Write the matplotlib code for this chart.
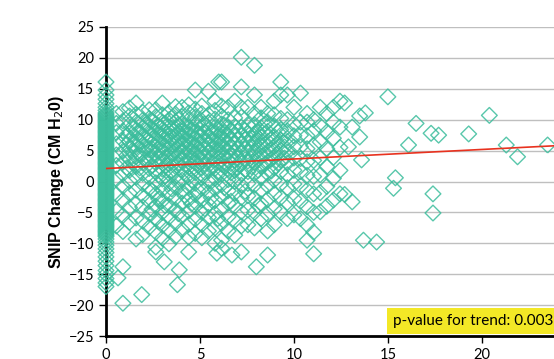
import matplotlib
matplotlib.use("Agg")
import matplotlib.pyplot as plt

# points sitting on x = 0 (the solid column at the axis)
zero_y = [-17.0, -16.4, -15.7, -15.0, -14.4, -13.6, -12.9, -12.2, -11.5, -10.9, -10.3, -9.8,
          -9.3, -8.9, -8.5, -8.1, -7.7, -7.3, -6.9, -6.5, -6.1, -5.7, -5.3, -4.9, -4.5, -4.1,
          -3.7, -3.3, -2.9, -2.5, -2.1, -1.7, -1.3, -0.9, -0.5, -0.1, 0.3, 0.7, 1.1, 1.5, 1.9,
          2.3, 2.7, 3.1, 3.5, 3.9, 4.3, 4.7, 5.1, 5.5, 5.9, 6.3, 6.7, 7.1, 7.5, 7.9, 8.3, 8.7,
          9.1, 9.5, 9.9, 10.3, 10.7, 11.1, 11.5, 12.0, 12.6, 13.3, 14.0, 14.8, 16.1]
zero_y_fill = [-8.7, -8.3, -7.9, -7.5, -7.1, -6.7, -6.3, -5.9, -5.5, -5.1, -4.7, -4.3, -3.9,
               -3.5, -3.1, -2.7, -2.3, -1.9, -1.5, -1.1, -0.7, -0.3, 0.1, 0.5, 0.9, 1.3, 1.7,
               2.1, 2.5, 2.9, 3.3, 3.7, 4.1, 4.5, 4.9, 5.3, 5.7, 6.1, 6.5, 6.9, 7.3, 7.7, 8.1,
               8.5, 8.9, 9.3, 9.7, 10.1, 10.5, 10.9]

# main cloud, one column of y values per x
cloud_x = [0.55, 0.9, 1.25, 1.6, 1.95, 2.3, 2.65, 3.0, 3.35, 3.7, 4.05, 4.4, 4.75, 5.1, 5.45,
           5.8, 6.15, 6.5, 6.85, 7.2, 7.55, 7.9, 8.25, 8.6, 8.95, 9.3, 9.65, 10.0, 10.35,
           10.7, 11.05, 11.4, 11.75, 12.1, 12.45]
cloud_y = [
    [-7.2, -4.8, -2.1, 0.4, 2.6, 4.3, 6.1, 7.9, 9.4, 11.0],
    [-8.1, -5.5, -3.0, -0.8, 1.2, 3.1, 4.9, 6.6, 8.2, 9.8, 11.3],
    [-6.6, -4.2, -1.9, 0.1, 1.8, 3.6, 5.2, 6.5, 7.8, 9.2, 10.6, 11.9],
    [-9.3, -5.9, -3.6, -1.4, 0.7, 2.4, 4.0, 5.6, 7.0, 8.3, 9.6, 10.9, 12.7],
    [-8.6, -6.4, -4.1, -2.3, -0.4, 1.3, 3.0, 4.5, 5.9, 7.2, 8.6, 9.9, 11.2],
    [-7.4, -5.2, -3.2, -1.1, 0.6, 2.1, 3.7, 5.1, 6.4, 7.6, 8.9, 10.2, 11.6],
    [-11.4, -10.6, -8.2, -6.0, -4.0, -2.0, -0.2, 1.5, 3.0, 4.3, 5.6, 6.8, 8.0, 9.3, 10.5, 11.6],
    [-9.2, -7.1, -5.0, -3.1, -1.3, 0.4, 2.0, 3.4, 4.7, 5.9, 7.1, 8.3, 9.5, 10.8, 12.7],
    [-10.1, -7.9, -5.8, -3.9, -2.0, -0.3, 1.3, 2.8, 4.1, 5.3, 6.5, 7.6, 8.8, 10.0, 11.1],
    [-8.9, -6.7, -4.6, -2.7, -0.9, 0.8, 2.4, 3.8, 5.0, 6.2, 7.3, 8.5, 9.7, 10.9, 12.1],
    [-7.8, -5.6, -3.5, -1.6, 0.2, 1.8, 3.3, 4.6, 5.8, 7.0, 8.1, 9.3, 10.5, 12.0],
    [-11.4, -9.0, -6.9, -4.8, -2.9, -1.0, 0.7, 2.3, 3.7, 5.0, 6.3, 7.5, 8.7, 9.9, 11.1, 12.4],
    [-8.4, -6.1, -4.0, -2.1, -0.3, 1.4, 3.0, 4.4, 5.7, 6.9, 8.0, 9.2, 10.4, 11.7, 14.8],
    [-9.1, -7.0, -5.0, -3.0, -1.1, 0.6, 2.2, 3.6, 4.9, 6.2, 7.4, 8.6, 9.8, 11.0, 12.2],
    [-8.0, -5.8, -3.7, -1.8, 0.0, 1.7, 3.2, 4.6, 5.9, 7.1, 8.3, 9.5, 10.8, 14.6],
    [-10.0, -7.5, -5.2, -3.1, -1.2, 0.5, 2.1, 3.6, 5.0, 6.3, 7.6, 8.8, 10.1, 11.5, 13.0],
    [-10.8, -9.5, -6.8, -4.5, -2.4, -0.5, 1.2, 2.8, 4.2, 5.5, 6.8, 8.0, 9.3, 10.6, 12.2, 16.1],
    [-8.0, -5.7, -3.5, -1.5, 0.3, 2.0, 3.5, 4.9, 6.2, 7.5, 8.7, 10.0, 12.0],
    [-8.7, -6.3, -4.0, -1.9, 0.0, 1.8, 3.4, 4.9, 6.3, 7.6, 8.9, 10.3, 13.0],
    [-11.4, -7.2, -4.9, -2.6, -0.6, 1.2, 2.9, 4.5, 6.0, 7.4, 8.8, 10.4, 12.0, 15.3, 20.1],
    [-7.0, -4.6, -2.3, -0.3, 1.6, 3.3, 4.9, 6.4, 7.8, 9.2, 12.0],
    [-7.5, -5.0, -2.7, -0.6, 1.3, 3.1, 4.7, 6.2, 7.7, 9.2, 11.0, 14.0, 18.8],
    [-6.0, -3.6, -1.4, 0.6, 2.4, 4.1, 5.7, 7.2, 8.7, 10.3, 12.0],
    [-11.9, -8.0, -5.3, -2.9, -0.7, 1.3, 3.2, 4.9, 6.5, 8.1, 9.6, 11.0],
    [-7.0, -4.4, -2.0, 0.2, 2.2, 4.0, 5.7, 7.3, 9.0, 10.8, 13.0],
    [-5.0, -2.6, -0.4, 1.6, 3.4, 5.1, 6.7, 8.4, 10.2, 14.0, 16.1],
    [-6.0, -3.4, -1.0, 1.1, 3.0, 4.8, 6.5, 8.2, 10.0, 14.0],
    [-5.4, -2.8, -0.4, 1.8, 3.8, 5.6, 7.4, 9.3, 12.0],
    [-6.0, -3.2, -0.7, 1.6, 3.7, 5.6, 7.5, 9.6, 14.3],
    [-9.5, -7.0, -4.1, -1.4, 1.0, 3.2, 5.3, 7.4, 9.6, 11.0],
    [-11.7, -8.2, -5.0, -2.0, 0.8, 3.4, 5.8, 8.2, 10.0],
    [-4.9, -1.8, 1.1, 3.8, 6.4, 9.0, 12.0],
    [-4.0, -0.8, 2.4, 5.3, 8.0, 11.0],
    [-3.0, 0.5, 3.9, 7.0, 9.6, 12.0],
    [-2.0, 1.8, 5.5, 8.8, 13.0],
]

# extra points filling the dense core of the cloud
core_x = [1.1, 1.45, 1.8, 2.1, 2.45, 2.8, 3.15, 3.5, 3.85, 4.2, 4.55, 4.9, 5.25, 5.6, 5.95,
          6.3, 6.65, 7.0, 7.4, 7.75, 8.1, 8.45, 8.8, 9.15, 9.5]
core_y = [
    [2.2, 4.2, 6.0, 7.5],
    [3.0, 4.8, 6.2, 8.5],
    [2.2, 4.3, 6.5, 8.0],
    [3.5, 5.4, 6.9, 9.2],
    [-4.5, -1.5, 2.6, 4.0, 5.3, 6.9, 8.4, 9.8],
    [-6.5, -2.8, 1.1, 3.6, 4.9, 6.2, 7.5, 9.0],
    [-3.9, 0.9, 2.5, 3.9, 5.4, 6.7, 8.0, 9.4],
    [-1.2, 1.7, 3.3, 4.6, 6.0, 7.2, 8.6, 10.3],
    [-5.2, -0.1, 2.9, 4.3, 5.6, 6.8, 8.0, 9.2],
    [-2.3, 1.2, 2.7, 4.1, 5.4, 6.6, 7.9, 9.0],
    [-3.6, 0.2, 2.0, 3.4, 4.8, 6.1, 7.4, 8.4],
    [-1.5, 2.6, 3.9, 5.2, 6.4, 7.7, 9.6],
    [-4.4, 1.5, 2.9, 4.2, 5.5, 6.7, 8.0, 9.3],
    [-2.6, 0.0, 2.4, 3.8, 5.2, 6.6, 7.9],
    [-6.0, 1.6, 3.1, 4.6, 6.0, 7.2, 8.4],
    [-1.0, 2.4, 3.9, 5.3, 6.6, 7.9, 9.1],
    [-3.2, 1.4, 2.9, 4.2, 5.6, 6.9, 8.3],
    [0.6, 2.2, 3.7, 5.2, 6.7, 8.1],
    [-1.6, 1.9, 3.5, 5.2, 6.8, 8.3],
    [2.4, 4.0, 5.5, 7.0, 8.5],
    [-3.9, 1.8, 3.5, 5.0, 6.6, 8.0],
    [2.8, 4.4, 6.0, 7.7, 9.3],
    [1.7, 3.6, 5.2, 6.9],
    [2.9, 4.5, 6.2, 8.0],
    [3.8, 5.6, 7.4],
]

# scattered points away from the cloud
tail_x = [0.9, 0.9, 0.64, 1.9, 3.1, 3.9, 3.8, 6.7, 5.9, 8.0, 13.7, 14.4, 15.3, 13.1, 12.7,
          17.4, 17.4, 15.0, 12.7, 13.8, 20.4, 16.5, 17.3, 17.7, 19.3, 16.1, 21.3, 21.9,
          23.5, 15.4, 13.6, 6.0, 13.1, 13.5, 12.9, 13.5]
tail_y = [-19.7, -13.8, -15.6, -18.3, -13.0, -14.3, -16.7, -11.9, -11.6, -13.8, -9.5, -9.8,
          -1.1, -3.3, -2.1, -2.0, -5.1, 13.7, 12.7, 11.1, 10.7, 9.4, 7.8, 7.5, 7.7, 5.9, 5.9,
          4.0, 5.9, 0.6, 3.5, 16.1, 8.8, 7.2, 5.6, 10.6]

trend_x = [0, 24]
trend_y = [2.1, 5.8]
y_ticks = [-25, -20, -15, -10, -5, 0, 5, 10, 15, 20, 25]
x_ticks = [0, 5, 10, 15, 20]

teal = "#3bbd9c"

fig = plt.figure(figsize=(5.54, 3.59), dpi=100)
ax = fig.add_axes([106 / 554, 23 / 359, 451 / 554, 309 / 359])

xs = [0] * len(zero_y) + [0] * len(zero_y_fill)
ys = zero_y + zero_y_fill
for cx, col in zip(cloud_x + core_x, cloud_y + core_y):
    xs += [cx] * len(col)
    ys += col
xs += tail_x
ys += tail_y

ax.scatter(xs, ys, marker="D", s=64, facecolors="none", edgecolors=teal,
           linewidths=1.0, alpha=0.85, clip_on=False, zorder=3)
ax.plot(trend_x, trend_y, color="#e8321f", lw=1.2, zorder=4)

ax.set_xlim(0, 24)
ax.set_ylim(-25, 25)
ax.set_yticks(y_ticks)
ax.set_xticks(x_ticks)
ax.grid(axis="y", color="#bfbfbf", lw=1.0)
ax.set_axisbelow(True)
for side in ["top", "right"]:
    ax.spines[side].set_visible(False)
for side in ["left", "bottom"]:
    ax.spines[side].set_linewidth(2)
    ax.spines[side].set_color("black")
ax.tick_params(direction="out", length=5, width=1, labelsize=10.5, colors="black")
for lab in ax.get_xticklabels() + ax.get_yticklabels():
    lab.set_family("Lato")

ax.set_ylabel("SNIP Change (CM H$_2$0)", fontsize=11.5, fontweight="bold",
              family="Liberation Sans")
ax.yaxis.set_label_coords(-40 / 451, 0.5)

fig.text(393 / 554, 1 - 321 / 359, "p-value for trend: 0.003", fontsize=11,
         family="Lato", va="center", ha="left",
         bbox=dict(boxstyle="square,pad=0.4", facecolor="#f3e826", edgecolor="none"))

fig.savefig("out.png", dpi=100)
